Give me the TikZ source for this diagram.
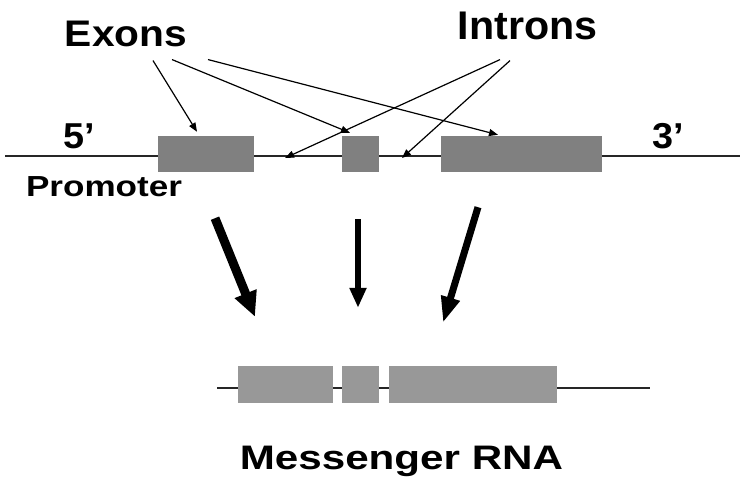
\documentclass[tikz,border=0pt]{standalone}
\usepackage{fontspec}
\setmainfont{Liberation Sans}
\usepackage{graphicx}
\usetikzlibrary{arrows.meta}
\definecolor{exongray}{RGB}{128,128,128}
\definecolor{mrnagray}{RGB}{152,152,152}

\begin{document}
\begin{tikzpicture}[x=1pt,y=-1pt,
    exon/.style={fill=exongray,inner sep=0pt,minimum height=36pt},
    mexon/.style={fill=mrnagray,inner sep=0pt,minimum height=37pt},
    strand/.style={line width=2pt,black!85},
    pointer/.style={line width=1.2pt,-{Triangle[length=9pt,width=7pt]}},
    label/.style={inner sep=0pt,anchor=base}]

  \useasboundingbox (0,0) rectangle (740,479);

  % DNA with exons
  \coordinate (dna5) at (5,156);
  \coordinate (dna3) at (740,156);
  \draw[strand] (dna5) -- (dna3);
  \node[exon,minimum width=96pt]  (ex1) at (206,154) {};
  \node[exon,minimum width=37pt]  (ex2) at (360.5,154) {};
  \node[exon,minimum width=161pt] (ex3) at (521.5,154) {};
  \coordinate (in1) at (285,158);
  \coordinate (in2) at (402,158);

  \node[label,font=\bfseries\fontsize{36}{40}\selectfont] (five) at (79,148) {\scalebox{1.05}[1]{5’}};
  \node[label,font=\bfseries\fontsize{36}{40}\selectfont] (three) at (668,148) {\scalebox{1.05}[1]{3’}};
  \node[label,font=\bfseries\fontsize{29}{32}\selectfont] (prom) at (104,196) {\scalebox{1.21}[1]{Promoter}};

  % labels on top
  \node[label,font=\bfseries\fontsize{37}{40}\selectfont] (exons) at (126,46) {\scalebox{1.1}[1]{Exons}};
  \node[label,font=\bfseries\fontsize{40}{44}\selectfont] (introns) at (527.5,39) {\scalebox{1.03}[1]{Introns}};

  \draw[pointer] ([xshift=27pt,yshift=-14pt]exons.south) -- ([xshift=-9pt,yshift=4pt]ex1.north);
  \draw[pointer] ([xshift=46pt,yshift=-13pt]exons.south) -- ([xshift=-10.5pt,yshift=3pt]ex2.north);
  \draw[pointer] ([xshift=82pt,yshift=-13pt]exons.south) -- ([xshift=-23.5pt,yshift=1pt]ex3.north);
  \draw[pointer] ([xshift=-27.5pt,yshift=-20pt]introns.south) -- (in1);
  \draw[pointer] ([xshift=-17.5pt,yshift=-21pt]introns.south) -- (in2);

  % messenger RNA
  \coordinate (rna5) at (217,388);
  \coordinate (rna3) at (650,388);
  \draw[strand] (rna5) -- (rna3);
  \node[mexon,minimum width=95pt]  (m1) at (285.5,384.5) {};
  \node[mexon,minimum width=37pt]  (m2) at (360.5,384.5) {};
  \node[mexon,minimum width=168pt] (m3) at (473,384.5) {};

  \draw[line width=9pt,-{Triangle[length=25pt,width=22pt]}]
    ([xshift=9pt,yshift=-46pt]ex1.south) -- ([xshift=-30.5pt,yshift=49pt]m1.north);
  \draw[line width=6pt,-{Triangle[length=20pt,width=16pt]}]
    ([xshift=-2.5pt,yshift=-47pt]ex2.south) -- ([xshift=-2.5pt,yshift=58pt]m2.north);
  \draw[line width=7pt,-{Triangle[length=26pt,width=18pt]}]
    ([xshift=-43.5pt,yshift=-35pt]ex3.south) -- ([xshift=-30pt,yshift=43pt]m3.north);

  \node[label,font=\bfseries\fontsize{34}{38}\selectfont] (mrna) at (401.5,469) {\scalebox{1.24}[1]{Messenger RNA}};
\end{tikzpicture}
\end{document}
